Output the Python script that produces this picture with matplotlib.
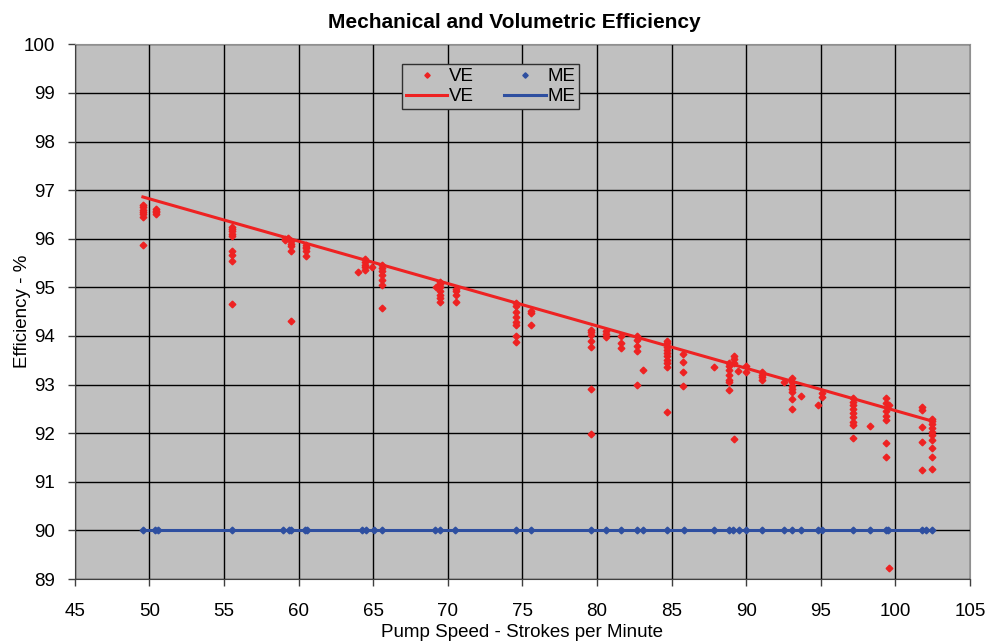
import numpy as np
import matplotlib.pyplot as plt

plt.rcParams['font.family'] = ['Liberation Sans', 'DejaVu Sans']

# volumetric efficiency readings, grouped by pump speed
ve_groups = [
    (49.57, [96.70, 96.65, 96.60, 96.55, 96.50, 96.45, 95.88]),
    (50.45, [96.62, 96.58, 96.55, 96.50]),
    (55.53, [96.25, 96.20, 96.15, 96.10, 96.05, 95.75, 95.66, 95.55, 94.66]),
    (59.10, [96.00, 95.98]),
    (59.30, [96.02]),
    (59.50, [95.95, 95.90, 95.85, 95.75, 94.30]),
    (60.50, [95.87, 95.83, 95.80, 95.75, 95.65]),
    (64.00, [95.32]),
    (64.45, [95.58, 95.52, 95.47, 95.42, 95.36]),
    (64.90, [95.42]),
    (65.57, [95.46, 95.40, 95.33, 95.25, 95.15, 95.05, 94.58]),
    (69.20, [95.00]),
    (69.48, [95.12, 95.06, 95.00, 94.92, 94.85, 94.78, 94.70]),
    (70.53, [94.97, 94.92, 94.85, 94.70]),
    (74.55, [94.68, 94.62, 94.50, 94.38, 94.28, 94.23, 93.99, 93.88]),
    (75.58, [94.52, 94.47, 94.23]),
    (79.57, [94.12, 94.08, 94.03, 93.90, 93.78, 92.90, 91.99]),
    (80.58, [94.10, 94.05, 93.98]),
    (81.60, [94.00, 93.85, 93.75]),
    (82.66, [94.00, 93.92, 93.80, 93.70, 93.00]),
    (83.06, [93.29]),
    (84.67, [93.90, 93.85, 93.78, 93.72, 93.65, 93.58, 93.50, 93.45, 93.37, 92.44]),
    (85.78, [93.62, 93.47, 93.25, 92.97]),
    (87.83, [93.37]),
    (88.84, [93.45, 93.38, 93.30, 93.20, 93.10, 93.05, 92.89]),
    (89.20, [93.59, 93.52, 93.44, 91.88]),
    (89.47, [93.27]),
    (89.98, [93.38, 93.25]),
    (91.03, [93.26, 93.20, 93.15, 93.09]),
    (92.54, [93.06]),
    (93.04, [93.13, 93.05, 92.98, 92.90, 92.85, 92.70, 92.50]),
    (93.64, [92.76]),
    (94.82, [92.57]),
    (95.11, [92.82, 92.75]),
    (97.17, [92.72, 92.65, 92.58, 92.50, 92.42, 92.33, 92.22, 92.16, 91.91]),
    (98.28, [92.15]),
    (99.35, [92.72, 92.62, 92.45, 92.35, 92.27, 91.79, 91.51]),
    (99.57, [92.58, 89.23]),
    (101.81, [92.53, 92.47, 92.13, 91.81, 91.25]),
    (102.46, [92.30, 92.25, 92.18, 92.10, 92.02, 91.96, 91.85, 91.69, 91.51, 91.27]),
]

me_speed = [49.57, 50.40, 50.60, 55.53, 58.99, 59.33, 59.49, 60.45, 60.57,
            64.24, 64.53, 65.07, 65.58, 69.15, 69.48, 70.49, 74.55, 75.58,
            79.57, 80.58, 81.62, 82.66, 83.06, 84.71, 85.80, 87.83, 88.84,
            89.13, 89.49, 89.98, 91.03, 92.54, 93.04, 93.66, 94.82, 95.11,
            97.17, 98.28, 99.35, 99.51, 101.81, 102.03, 102.46]
me_pct = [90.0] * len(me_speed)

# linear trend coefficients (slope per stroke/min, intercept in %)
ve_trend = (-0.08716, 101.18)
me_trend = (0.0, 90.0)

ve_speed = np.array([s for s, vals in ve_groups for _ in vals])
ve_pct = np.array([v for _, vals in ve_groups for v in vals])

red = '#EE2222'
blue = '#2E4FA0'

fig = plt.figure(figsize=(9.88, 6.43), dpi=100)
ax = fig.add_axes([0.0756, 0.0995, 0.9062, 0.8316])
ax.set_facecolor('#C0C0C0')

ax.plot(ve_speed, ve_pct, linestyle='none', marker='D', markersize=3.4,
        color=red, label='VE', zorder=3)
ax.plot(me_speed, me_pct, linestyle='none', marker='D', markersize=3.4,
        color=blue, label='ME', zorder=3)

# trend lines over the measured speed range
xs = np.array([ve_speed.min(), ve_speed.max()])
ax.plot(xs, ve_trend[0] * xs + ve_trend[1], color=red, lw=2.2,
        label='VE', zorder=4)
xs2 = np.array([min(me_speed), max(me_speed)])
ax.plot(xs2, me_trend[0] * xs2 + me_trend[1], color=blue, lw=2.2,
        label='ME', zorder=4)

ax.set_xlim(45, 105)
ax.set_ylim(89, 100)
ax.set_xticks(np.arange(45, 106, 5))
ax.set_yticks(np.arange(89, 101, 1))
ax.grid(True, color='black', lw=1.0)
ax.set_axisbelow(True)
ax.tick_params(labelsize=13.5, direction='out', length=5, width=1,
               color='#404040')
ax.tick_params(axis='x', pad=12)
ax.tick_params(axis='y', pad=9)
ax.spines['left'].set_color('#404040')
ax.spines['bottom'].set_color('#404040')
ax.spines['top'].set_color('#909090')
ax.spines['right'].set_color('#909090')

ax.set_title('Mechanical and Volumetric Efficiency', fontsize=15,
             fontweight='bold', x=0.491, pad=12)
ax.set_xlabel('Pump Speed - Strokes per Minute', fontsize=13.5, labelpad=3)
ax.set_ylabel('Efficiency - %', fontsize=13.5)
ax.yaxis.set_label_coords(-0.0485, 0.5)

h, l = ax.get_legend_handles_labels()
order = [0, 2, 1, 3]
leg = ax.legend([h[i] for i in order], [l[i] for i in order], ncol=2,
                loc='upper left', bbox_to_anchor=(0.366, 0.9625),
                borderaxespad=0, fancybox=False, framealpha=1,
                facecolor='#C0C0C0', edgecolor='#303030', fontsize=13.5,
                handlelength=2.2, handletextpad=0.1, columnspacing=1.6,
                labelspacing=0.15, borderpad=0.2, markerscale=0.8)
leg.get_frame().set_linewidth(1.0)

fig.savefig('out.png', dpi=100)
